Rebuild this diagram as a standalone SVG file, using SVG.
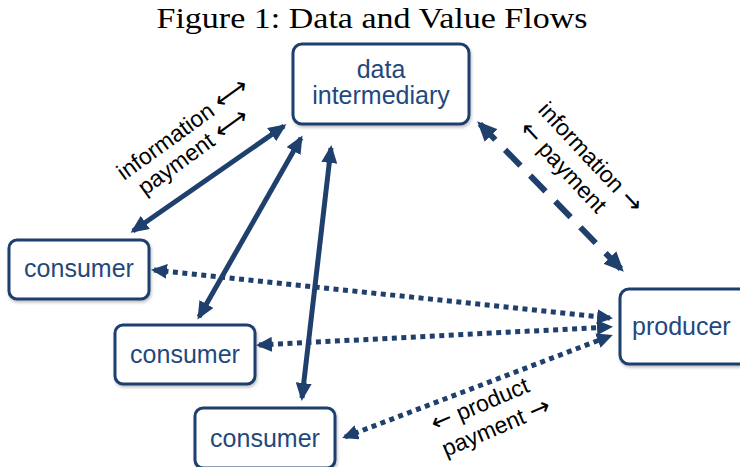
<svg xmlns="http://www.w3.org/2000/svg" width="740" height="467" viewBox="0 0 740 467">
<style>
.box{fill:#fff;stroke:#1F3F6D;stroke-width:3;filter:url(#sh)}
.nt{font-family:"Liberation Sans",Arial,sans-serif;font-size:25px;fill:#1F497D;text-anchor:middle}
.lb{font-family:"Liberation Sans","DejaVu Sans",Arial,sans-serif;font-size:23px;fill:#000}
.ar{font-family:"DejaVu Sans",sans-serif;font-size:25px}
.solid{stroke:#1F3F6D;stroke-width:5;fill:none;marker-start:url(#ah);marker-end:url(#ah)}
.dot{stroke:#1F3F6D;stroke-width:5;fill:none;stroke-dasharray:5 4.5;marker-start:url(#ah2);marker-end:url(#ah2)}
.dash{stroke:#1F3F6D;stroke-width:6;fill:none;stroke-dasharray:22 14;marker-start:url(#ah3);marker-end:url(#ah3)}
</style>
<defs>
<filter id="sh" x="-10%" y="-10%" width="130%" height="140%">
<feDropShadow dx="1" dy="2" stdDeviation="1.5" flood-color="#000" flood-opacity="0.25"/>
</filter>
<marker id="ah" markerUnits="userSpaceOnUse" viewBox="0 0 18 16" markerWidth="18" markerHeight="16" refX="15" refY="8" orient="auto-start-reverse">
<path d="M0,0 L18,8 L0,16 z" fill="#1F3F6D"/>
</marker>
<marker id="ah2" markerUnits="userSpaceOnUse" viewBox="0 0 16 15" markerWidth="16" markerHeight="15" refX="13" refY="7.5" orient="auto-start-reverse">
<path d="M0,0 L16,7.5 L0,15 z" fill="#1F3F6D"/>
</marker>
<marker id="ah3" markerUnits="userSpaceOnUse" viewBox="0 0 20 18" markerWidth="20" markerHeight="18" refX="16" refY="9" orient="auto-start-reverse">
<path d="M0,0 L20,9 L0,18 z" fill="#1F3F6D"/>
</marker>
</defs>
<rect width="740" height="467" fill="#fff"/>
<text x="372" y="28" font-family="'Liberation Serif','DejaVu Serif',serif" font-size="29" fill="#000" text-anchor="middle" textLength="431" lengthAdjust="spacingAndGlyphs">Figure 1: Data and Value Flows</text>

<g id="connectors">
<line class="solid" x1="133" y1="231" x2="284" y2="126"/>
<line class="solid" x1="199" y1="317" x2="301" y2="138"/>
<line class="solid" x1="302" y1="398" x2="331" y2="148"/>
<line class="dash" x1="480" y1="124" x2="621" y2="269"/>
<line class="dot" x1="154" y1="270" x2="610" y2="318"/>
<line class="dot" x1="259" y1="345" x2="610" y2="327"/>
<line class="dot" x1="345" y1="437" x2="610" y2="336"/>
</g>

<g id="labels">
<text class="lb" transform="translate(124,181) rotate(-36)">information <tspan class="ar">⟷</tspan></text>
<text class="lb" transform="translate(145,196) rotate(-36)">payment <tspan class="ar">⟷</tspan></text>
<text class="lb" transform="translate(537,111) rotate(47)">information  <tspan class="ar">→</tspan></text>
<text class="lb" transform="translate(518,130) rotate(47)"><tspan class="ar">←</tspan> payment</text>
<text class="lb" transform="translate(435,432) rotate(-23)"><tspan class="ar">←</tspan> product</text>
<text class="lb" transform="translate(446,457) rotate(-23)">payment <tspan class="ar">→</tspan></text>
</g>

<g id="data-intermediary">
<rect class="box" x="293" y="44" width="176" height="80" rx="9"/>
<text class="nt" x="381" y="78">data</text>
<text class="nt" x="381" y="104">intermediary</text>
</g>
<g id="consumer-1">
<rect class="box" x="9" y="240" width="140" height="59" rx="8"/>
<text class="nt" x="79" y="277">consumer</text>
</g>
<g id="consumer-2">
<rect class="box" x="115" y="325" width="140" height="59" rx="8"/>
<text class="nt" x="185" y="363">consumer</text>
</g>
<g id="consumer-3">
<rect class="box" x="195" y="408" width="140" height="60" rx="8"/>
<text class="nt" x="265" y="447">consumer</text>
</g>
<g id="producer">
<rect class="box" x="620" y="289" width="130" height="75" rx="9"/>
<text class="nt" x="632" y="335" style="text-anchor:start">producer</text>
</g>
</svg>
